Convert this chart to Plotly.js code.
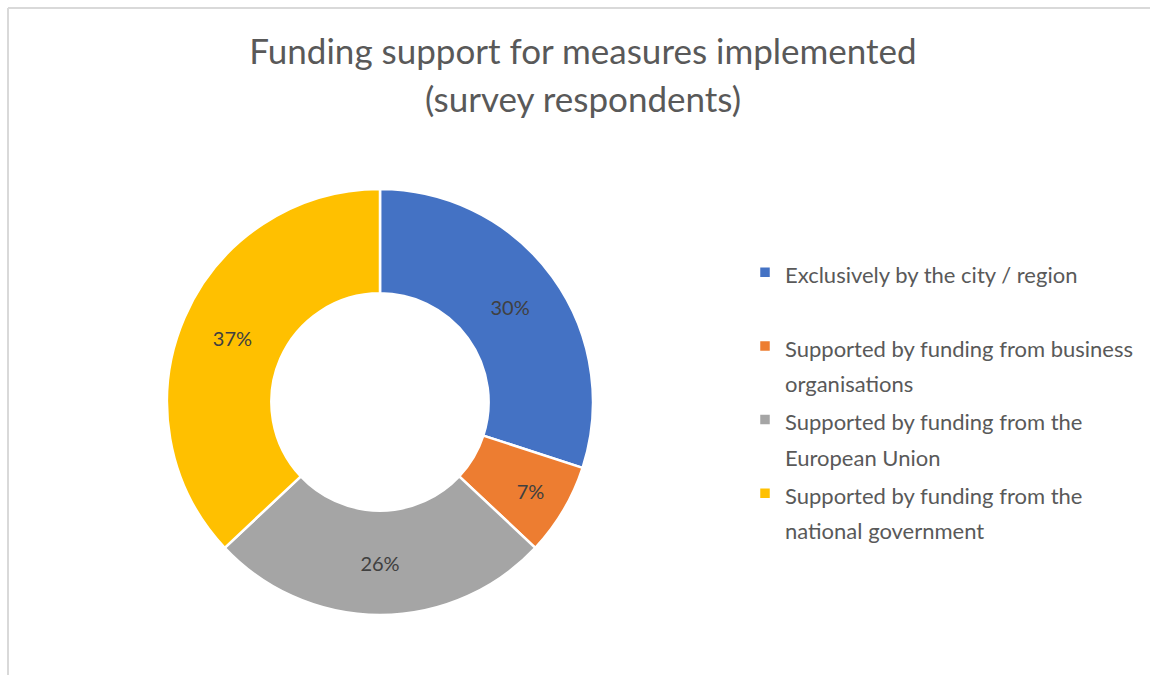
<!DOCTYPE html>
<html>
<head>
<meta charset="utf-8">
<script src="https://cdn.plot.ly/plotly-3.0.1.min.js"></script>
<style>
  html, body { margin: 0; padding: 0; background: #ffffff; }
  #chart { width: 1150px; height: 675px; }
</style>
</head>
<body>
<div id="chart"></div>
<script>
const categories = [
  "Exclusively by the city / region",
  "Supported by funding from business<br>organisations",
  "Supported by funding from the<br>European Union",
  "Supported by funding from the<br>national government"
];
const values = [30, 7, 26, 37];
const colors = ["#4472C4", "#ED7D31", "#A5A5A5", "#FFC000"];
const titleLines = ["Funding support for measures implemented", "(survey respondents)"];

const W = 1150, H = 675;
const cx = 380, cy = 402, R = 213;

// legend labels: visible text at 22px inside a larger base font so that
// line spacing and item spacing resemble the original
const legendLabels = categories.map(function (c) {
  const lines = c.split("<br>");
  if (lines.length < 2) lines.push("\u00a0");
  return lines.map(function (l) {
    return '<span style="font-size:22px">' + l + '</span>';
  }).join("<br>");
});

const trace = {
  type: "pie",
  labels: legendLabels,
  values: values,
  sort: false,
  direction: "clockwise",
  rotation: 0,
  hole: 0.51,
  textinfo: "percent",
  textposition: "inside",
  insidetextorientation: "horizontal",
  textfont: { family: "Lato, 'Open Sans', sans-serif", size: 20, color: "#404040" },
  marker: { colors: colors, line: { color: "#ffffff", width: 2.5 } },
  domain: {
    x: [(cx - R) / W, (cx + R) / W],
    y: [(H - cy - R) / H, (H - cy + R) / H]
  },
  hoverinfo: "percent"
};

const layout = {
  width: W, height: H,
  margin: { l: 0, r: 0, t: 0, b: 0 },
  paper_bgcolor: "#ffffff",
  title: {
    text: titleLines.map(function (t) { return '<span style="font-size:35px">' + t + '</span>'; }).join("<br>"),
    font: { family: "Lato, 'Open Sans', sans-serif", size: 37, color: "#595959" },
    x: 583 / W, xanchor: "center",
    y: 1 - 64 / H, yanchor: "middle",
    xref: "paper", yref: "paper"
  },
  showlegend: true,
  legend: {
    x: 745 / W, xanchor: "left",
    y: 1 - 248 / H, yanchor: "top",
    valign: "top",
    font: { family: "Lato, 'Open Sans', sans-serif", size: 27.2, color: "#595959" },
    bgcolor: "rgba(0,0,0,0)"
  },
  shapes: [
    { type: "line", xref: "paper", yref: "paper", x0: 8 / W, y0: 0, x1: 8 / W, y1: 1 - 8 / H,
      line: { color: "#d9d9d9", width: 2 } },
    { type: "line", xref: "paper", yref: "paper", x0: 8 / W, y0: 1 - 8 / H, x1: 1, y1: 1 - 8 / H,
      line: { color: "#d9d9d9", width: 2 } }
  ]
};

Plotly.newPlot("chart", [trace], layout, { displayModeBar: false, staticPlot: true });
</script>
</body>
</html>
